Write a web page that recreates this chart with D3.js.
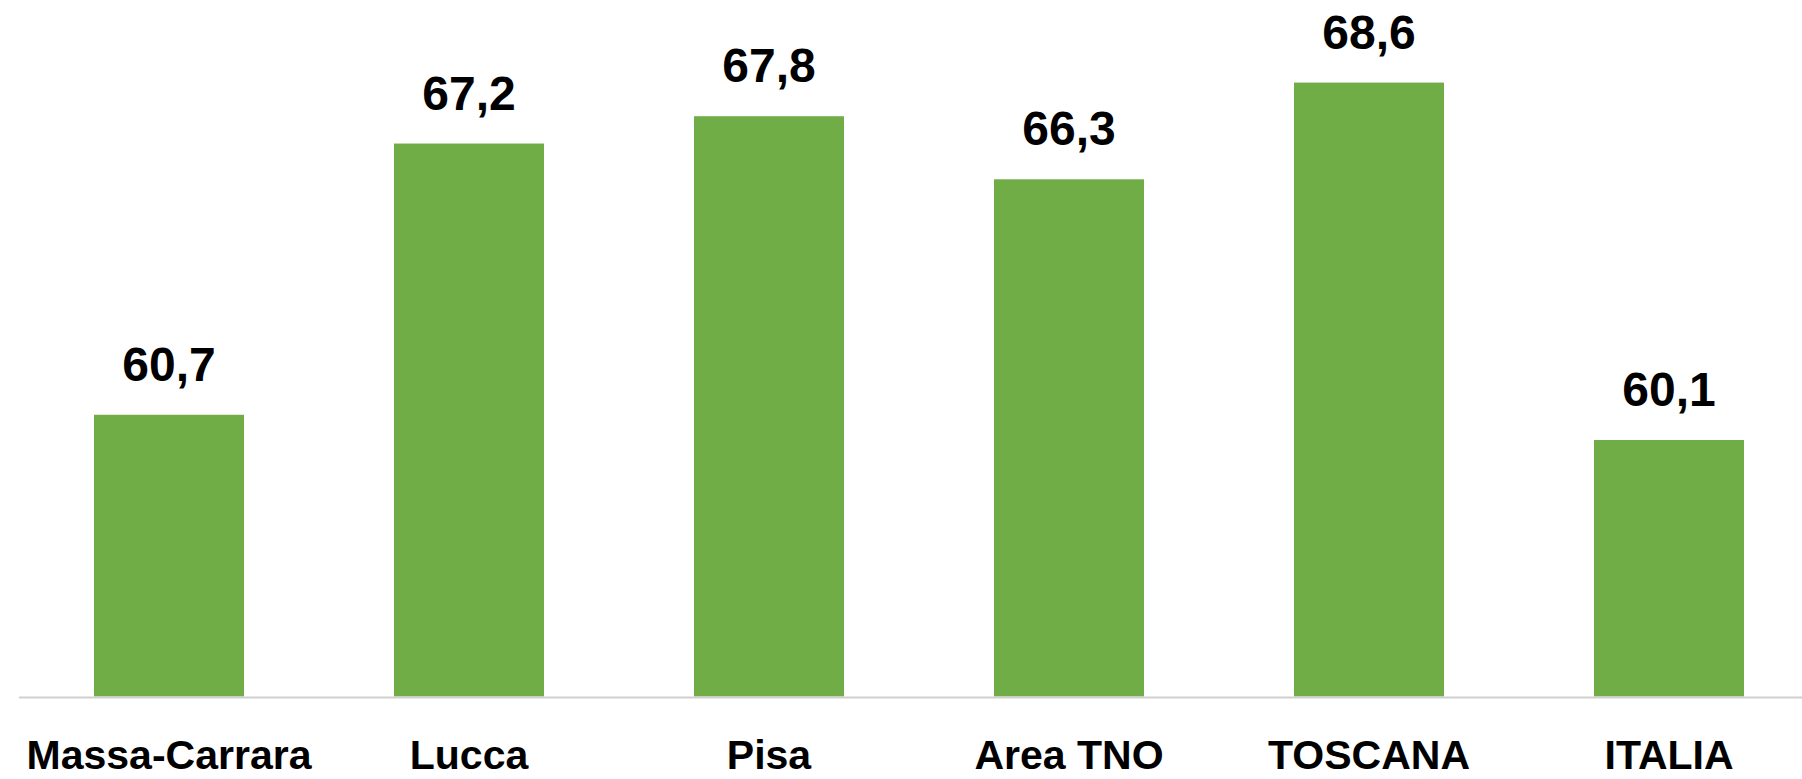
<!DOCTYPE html>
<html>
<head>
<meta charset="utf-8">
<script src="https://cdn.jsdelivr.net/npm/d3@7"></script>
<style>
  html, body { margin: 0; padding: 0; background: #ffffff; }
  svg { display: block; }
</style>
</head>
<body>
<svg id="chart" width="1802" height="779"></svg>
<script>
const categories = ["Massa-Carrara", "Lucca", "Pisa", "Area TNO", "TOSCANA", "ITALIA"];
const values = [60.7, 67.15, 67.8, 66.3, 68.6, 60.1];
const valueLabels = ["60,7", "67,2", "67,8", "66,3", "68,6", "60,1"];
const yDomain = [54, 70];

const W = 1802, H = 779;
const svg = d3.select("#chart");
const font = "'Liberation Sans', Arial, sans-serif";

const x = d3.scaleBand()
  .domain(categories)
  .range([19, 1819])
  .paddingInner(0.5)
  .paddingOuter(0.25);

const y = d3.scaleLinear()
  .domain(yDomain)
  .range([696.5, 23.7]);

// bars
svg.append("g").selectAll("rect")
  .data(categories)
  .join("rect")
  .attr("x", d => x(d))
  .attr("y", (d, i) => y(values[i]))
  .attr("width", x.bandwidth())
  .attr("height", (d, i) => y(yDomain[0]) - y(values[i]))
  .attr("fill", "#70AD47");

// value labels
svg.append("g").selectAll("text")
  .data(categories)
  .join("text")
  .attr("x", d => x(d) + x.bandwidth() / 2)
  .attr("y", (d, i) => y(values[i]) - 34)
  .attr("text-anchor", "middle")
  .attr("font-family", font)
  .attr("font-weight", "bold")
  .attr("font-size", "48px")
  .attr("fill", "#000")
  .text((d, i) => valueLabels[i]);

// x axis
const axis = svg.append("g")
  .attr("transform", `translate(0,${y(yDomain[0]) + 1})`)
  .call(d3.axisBottom(x).tickSize(0).tickSizeOuter(0));

axis.select(".domain")
  .attr("d", `M19,0H${W}`)
  .attr("stroke", "#d0d0d0")
  .attr("stroke-width", 2);

axis.selectAll(".tick text")
  .attr("y", 71)
  .attr("dy", 0)
  .attr("font-family", font)
  .attr("font-weight", "bold")
  .attr("font-size", "41px")
  .attr("fill", "#000");
</script>
</body>
</html>
